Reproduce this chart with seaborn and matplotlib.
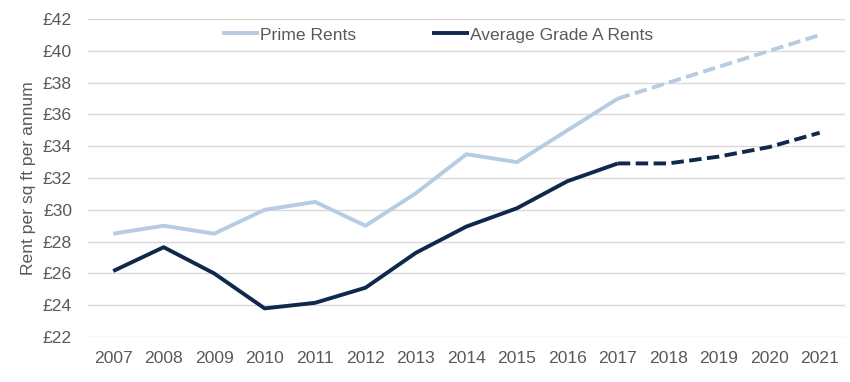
import numpy as np
import pandas as pd
import matplotlib
import seaborn as sns

matplotlib.use('agg')
import matplotlib.pyplot as plt

years = [2007, 2008, 2009, 2010, 2011, 2012, 2013, 2014, 2015, 2016, 2017, 2018, 2019, 2020, 2021]
prime_rents = [28.5, 29.0, 28.5, 30.0, 30.5, 29.0, 31.05, 33.5, 33.0, 35.0, 37.0, 38.0, 39.0, 40.0, 41.0]
grade_a_rents = [26.15, 27.65, 26.0, 23.8, 24.15, 25.1, 27.3, 28.95, 30.1, 31.8, 32.92, 32.92, 33.35, 33.95, 34.85]
last_actual = 2017

y_ticks = list(range(22, 43, 2))

prime_color = "#b7cbe3"
grade_color = "#10284c"
text_color = "#595959"

df = pd.DataFrame({"Year": years, "Prime": prime_rents, "GradeA": grade_a_rents})
actual = df[df["Year"] <= last_actual]
forecast = df[df["Year"] >= last_actual]

sns.set_style("white")
plt.rcParams['font.family'] = ['Liberation Sans', 'DejaVu Sans']

fs = 12.6
fig = plt.figure(figsize=(8.5, 3.82), dpi=100)
ax = fig.add_axes([0.1035, 0.1178, 0.8905, 0.8322])

lw = 2.8
sns.lineplot(x="Year", y="Prime", data=actual, color=prime_color, lw=lw, ax=ax, label="Prime Rents")
sns.lineplot(x="Year", y="GradeA", data=actual, color=grade_color, lw=lw, ax=ax, label="Average Grade A Rents")
sns.lineplot(x="Year", y="Prime", data=forecast, color=prime_color, lw=lw, ax=ax, legend=False)
sns.lineplot(x="Year", y="GradeA", data=forecast, color=grade_color, lw=lw, ax=ax, legend=False)
for line in ax.lines[2:]:
    line.set_dashes([3.2, 1.4])
for line in ax.lines:
    line.set_solid_capstyle('butt')
    line.set_dash_capstyle('butt')

ax.set_xlim(2006.5, 2021.5)
ax.set_ylim(22, 42)
ax.set_xticks(years)
ax.set_xticklabels([str(y) for y in years])
ax.set_yticks(y_ticks)
ax.set_yticklabels(["£%d" % v for v in y_ticks])
ax.tick_params(axis='both', length=0, labelsize=fs, colors=text_color)
ax.tick_params(axis='x', pad=10)
ax.tick_params(axis='y', pad=11.5)
ax.grid(axis='y', color="#d9d9d9", lw=1)
ax.set_axisbelow(True)
for s in ax.spines.values():
    s.set_visible(False)

ax.set_xlabel("")
ax.set_ylabel("Rent per sq ft per annum", fontsize=fs, color=text_color, labelpad=5)

ax.legend(loc='center', bbox_to_anchor=(0.462, 0.95), ncol=2, frameon=False,
          fontsize=fs, labelcolor=text_color, handlelength=2.1,
          handletextpad=0.1, columnspacing=4.3)

fig.savefig("out.png", dpi=100)
